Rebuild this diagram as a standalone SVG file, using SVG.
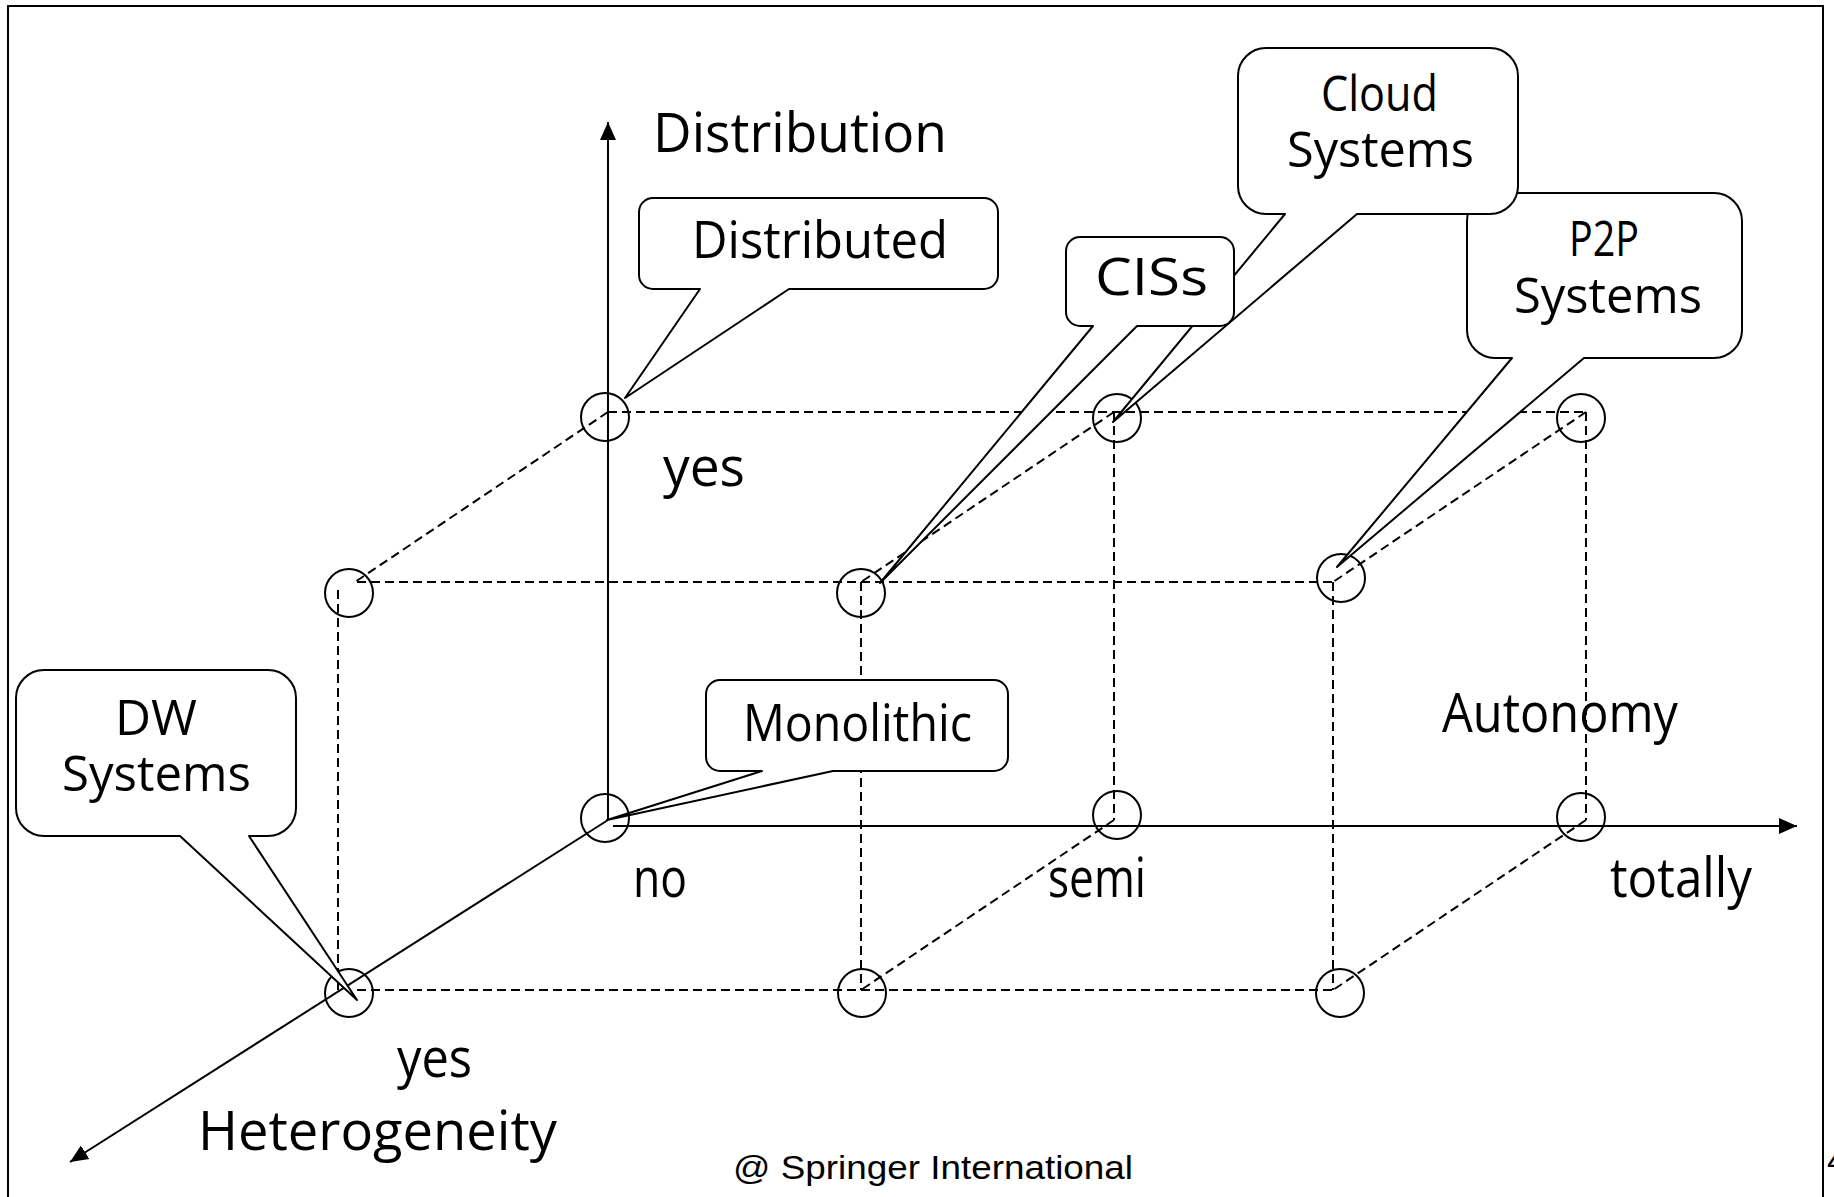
<svg xmlns="http://www.w3.org/2000/svg" width="1834" height="1197" viewBox="0 0 1834 1197">
<style>
.lbl{font-family:"Open Sans","DejaVu Sans",sans-serif;font-size:54px;fill:#000}
.sm{font-size:52px}
.two{font-size:50px}
.dash{stroke:#000;stroke-width:2;stroke-dasharray:9 5;fill:none}
.axis{stroke:#000;stroke-width:2;fill:none}
.pt{stroke:#000;stroke-width:2;fill:none}
.call{stroke:#000;stroke-width:2;fill:#fff;stroke-linejoin:round}
.copy{font-family:"Liberation Sans",Arial,sans-serif;font-size:34px;fill:#000}
</style>
<defs>
<marker id="arr" markerUnits="userSpaceOnUse" markerWidth="20" markerHeight="20" viewBox="0 0 20 20" refX="18" refY="10" orient="auto">
<path d="M0,2 L18,10 L0,18 Z" fill="#000"/>
</marker>
</defs>
<rect width="1834" height="1197" fill="#fff"/>
<path d="M8,1197 V6 H1823 V1197" stroke="#000" stroke-width="2" fill="none"/>
<g id="connectors">
<line class="dash" x1="608" y1="412" x2="1586" y2="412"/>
<line class="dash" x1="357" y1="582" x2="1333" y2="582"/>
<line class="dash" x1="357" y1="990" x2="1333" y2="990"/>
<line class="dash" x1="608" y1="412" x2="355" y2="582"/>
<line class="dash" x1="1114" y1="412" x2="861" y2="582"/>
<line class="dash" x1="1586" y1="412" x2="1333" y2="582"/>
<line class="dash" x1="1114" y1="820" x2="861" y2="990"/>
<line class="dash" x1="1586" y1="820" x2="1333" y2="990"/>
<line class="dash" x1="338" y1="590" x2="338" y2="990"/>
<line class="dash" x1="861" y1="582" x2="861" y2="990"/>
<line class="dash" x1="1333" y1="582" x2="1333" y2="990"/>
<line class="dash" x1="1114" y1="412" x2="1114" y2="820"/>
<line class="dash" x1="1586" y1="412" x2="1586" y2="820"/>
<line class="axis" x1="608" y1="820" x2="608" y2="122" marker-end="url(#arr)"/>
<line class="axis" x1="613" y1="826" x2="1797" y2="826" marker-end="url(#arr)"/>
<line class="axis" x1="608" y1="820" x2="70" y2="1162" marker-end="url(#arr)"/>
</g>
<g id="points">
<circle class="pt" cx="605" cy="417" r="24"/>
<circle class="pt" cx="1117" cy="418" r="24"/>
<circle class="pt" cx="1581" cy="418" r="24"/>
<circle class="pt" cx="349" cy="593" r="24"/>
<circle class="pt" cx="861" cy="593" r="24"/>
<circle class="pt" cx="1341" cy="578" r="24"/>
<circle class="pt" cx="605" cy="818" r="24"/>
<circle class="pt" cx="1117" cy="815" r="24"/>
<circle class="pt" cx="1581" cy="817" r="24"/>
<circle class="pt" cx="349" cy="993" r="24"/>
<circle class="pt" cx="862" cy="993" r="24"/>
<circle class="pt" cx="1340" cy="993" r="24"/>
</g>
<g id="axis-labels">
<text class="lbl" x="653" y="152" textLength="294" lengthAdjust="spacingAndGlyphs">Distribution</text>
<text class="lbl" x="663" y="486" textLength="82" lengthAdjust="spacingAndGlyphs">yes</text>
<text class="lbl" x="1442" y="732" textLength="236" lengthAdjust="spacingAndGlyphs">Autonomy</text>
<text class="lbl" x="633" y="897" textLength="54" lengthAdjust="spacingAndGlyphs">no</text>
<text class="lbl" x="1048" y="897" textLength="98" lengthAdjust="spacingAndGlyphs">semi</text>
<text class="lbl" x="1610" y="897" textLength="142" lengthAdjust="spacingAndGlyphs">totally</text>
<text class="lbl" x="397" y="1077" textLength="75" lengthAdjust="spacingAndGlyphs">yes</text>
<text class="lbl" x="198" y="1150" textLength="359" lengthAdjust="spacingAndGlyphs">Heterogeneity</text>
</g>
<g id="p2p">
<path class="call" d="M1495,193 H1714 A28,28 0 0 1 1742,221 V330 A28,28 0 0 1 1714,358 H1584 L1337,567 L1512,358 H1495 A28,28 0 0 1 1467,330 V221 A28,28 0 0 1 1495,193 Z"/>
<text class="lbl two" x="1569" y="256" textLength="70" lengthAdjust="spacingAndGlyphs">P2P</text>
<text class="lbl two" x="1514" y="313" textLength="188" lengthAdjust="spacingAndGlyphs">Systems</text>
</g>
<g id="cloud">
<path class="call" d="M1266,48 H1490 A28,28 0 0 1 1518,76 V186 A28,28 0 0 1 1490,214 H1357 L1113,422 L1285,214 H1266 A28,28 0 0 1 1238,186 V76 A28,28 0 0 1 1266,48 Z"/>
<text class="lbl two" x="1321" y="111" textLength="117" lengthAdjust="spacingAndGlyphs">Cloud</text>
<text class="lbl two" x="1287" y="167" textLength="187" lengthAdjust="spacingAndGlyphs">Systems</text>
</g>
<g id="ciss">
<path class="call" d="M1080,237 H1220 A14,14 0 0 1 1234,251 V312 A14,14 0 0 1 1220,326 H1137 L880,583 L1093,326 H1080 A14,14 0 0 1 1066,312 V251 A14,14 0 0 1 1080,237 Z"/>
<text class="lbl sm" x="1095" y="295" textLength="113" lengthAdjust="spacingAndGlyphs">CISs</text>
</g>
<g id="distributed">
<path class="call" d="M653,198 H984 A14,14 0 0 1 998,212 V275 A14,14 0 0 1 984,289 H789 L625,398 L700,289 H653 A14,14 0 0 1 639,275 V212 A14,14 0 0 1 653,198 Z"/>
<text class="lbl sm" x="692" y="258" textLength="256" lengthAdjust="spacingAndGlyphs">Distributed</text>
</g>
<g id="monolithic">
<path class="call" d="M720,680 H994 A14,14 0 0 1 1008,694 V757 A14,14 0 0 1 994,771 H833 L607,820 L762,771 H720 A14,14 0 0 1 706,757 V694 A14,14 0 0 1 720,680 Z"/>
<text class="lbl sm" x="743" y="741" textLength="229" lengthAdjust="spacingAndGlyphs">Monolithic</text>
</g>
<g id="dw">
<path class="call" d="M44,670 H268 A28,28 0 0 1 296,698 V808 A28,28 0 0 1 268,836 H249 L357,1000 L180,836 H44 A28,28 0 0 1 16,808 V698 A28,28 0 0 1 44,670 Z"/>
<text class="lbl two" x="115" y="735" textLength="82" lengthAdjust="spacingAndGlyphs">DW</text>
<text class="lbl two" x="62" y="791" textLength="189" lengthAdjust="spacingAndGlyphs">Systems</text>
</g>
<text class="copy" x="733" y="1179" textLength="400" lengthAdjust="spacingAndGlyphs">@ Springer International</text>
<text class="copy" x="1827" y="1172">4</text>
</svg>
